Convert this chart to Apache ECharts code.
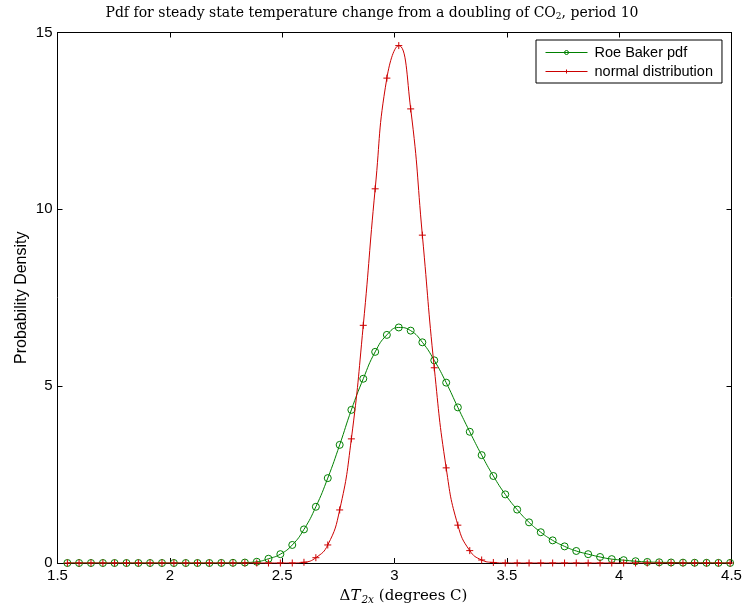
<!DOCTYPE html>
<html>
<head>
<meta charset="utf-8">
<script src="https://cdn.jsdelivr.net/npm/echarts@6/dist/echarts.min.js"></script>
<style>
  html, body { margin: 0; padding: 0; background: #fff; }
  #chart { width: 744px; height: 607px; }
</style>
</head>
<body>
<div id="chart"></div>
<script>
// Temperature change grid (degrees C) at which the curves are sampled
const deltaT = [
  1.544, 1.596, 1.649, 1.702, 1.754, 1.807, 1.860, 1.912, 1.965, 2.018,
  2.071, 2.123, 2.176, 2.229, 2.281, 2.334, 2.387, 2.439, 2.492, 2.545,
  2.597, 2.650, 2.703, 2.756, 2.808, 2.861, 2.914, 2.966, 3.019, 3.072,
  3.124, 3.177, 3.230, 3.282, 3.335, 3.388, 3.440, 3.493, 3.546, 3.599,
  3.651, 3.704, 3.757, 3.809, 3.862, 3.915, 3.967, 4.020, 4.073, 4.125,
  4.178, 4.231, 4.284, 4.336, 4.389, 4.442, 4.494
];

// Roe & Baker probability density
const roeBakerPdf = [
  0, 0, 0, 0, 0, 0, 0, 0, 0, 0,
  0, 0, 0, 0.002, 0.005, 0.012, 0.035, 0.12, 0.25, 0.51,
  0.95, 1.59, 2.40, 3.34, 4.33, 5.21, 5.97, 6.45, 6.66, 6.57,
  6.24, 5.73, 5.10, 4.40, 3.71, 3.05, 2.46, 1.94, 1.51, 1.15,
  0.87, 0.64, 0.47, 0.34, 0.25, 0.17, 0.11, 0.08, 0.05, 0.03,
  0.02, 0.015, 0.01, 0.007, 0.005, 0.003, 0.002
];

// Normal distribution density
const normalPdf = [
  0, 0, 0, 0, 0, 0, 0, 0, 0, 0,
  0, 0, 0, 0, 0, 0, 0, 0, 0, 0,
  0.02, 0.15, 0.51, 1.50, 3.51, 6.72, 10.58, 13.71, 14.63, 12.84,
  9.27, 5.52, 2.69, 1.07, 0.35, 0.085, 0.015, 0, 0, 0,
  0, 0, 0, 0, 0, 0, 0, 0, 0, 0,
  0, 0, 0, 0, 0, 0, 0
];

const xTicks = [1.5, 2, 2.5, 3, 3.5, 4, 4.5];
const yTicks = [0, 5, 10, 15];
const seriesNames = ['Roe Baker pdf', 'normal distribution'];

const GREEN = '#008000';
const RED = '#cc0000';
const SANS = '"Liberation Sans", Arial, Helvetica, sans-serif';
const SERIF = '"DejaVu Serif", "Liberation Serif", serif';

const pairs = (ys) => deltaT.map((x, i) => [x, ys[i]]);

const xMin = xTicks[0], xMax = xTicks[xTicks.length - 1], xStep = xTicks[1] - xTicks[0];
const yMin = yTicks[0], yMax = yTicks[yTicks.length - 1], yStep = yTicks[1] - yTicks[0];

const frameAxisX = (pos, show) => ({
  type: 'value', position: pos, min: xMin, max: xMax, interval: xStep,
  axisLine: { show: true, onZero: false, lineStyle: { color: '#000', width: 1 } },
  axisTick: { show: true, inside: true, length: 5, lineStyle: { color: '#000' } },
  axisLabel: { show: show, color: '#000', fontSize: 15, fontFamily: SANS, margin: 5 },
  splitLine: { show: false }
});
const frameAxisY = (pos, show) => ({
  type: 'value', position: pos, min: yMin, max: yMax, interval: yStep,
  axisLine: { show: true, onZero: false, lineStyle: { color: '#000', width: 1 } },
  axisTick: { show: true, inside: true, length: 5, lineStyle: { color: '#000' } },
  axisLabel: { show: show, color: '#000', fontSize: 15, fontFamily: SANS, margin: 5 },
  splitLine: { show: false }
});

const xBottom = frameAxisX('bottom', true);
xBottom.name = '{d|\u0394}{t|T}{s|2x}{r| (degrees C)}';
xBottom.nameLocation = 'middle';
xBottom.nameGap = 24;
xBottom.nameMoveOverlap = false;
xBottom.nameTextStyle = {
  color: '#000',
  padding: [0, 0, 0, 18],
  rich: {
    d: { fontFamily: SERIF, fontSize: 15, color: '#000' },
    t: { fontFamily: SERIF, fontSize: 15, fontStyle: 'italic', color: '#000', padding: [0, 1, 0, 0] },
    s: { fontFamily: SERIF, fontSize: 10.5, fontStyle: 'italic', color: '#000', padding: [8, 0, 0, 0] },
    r: { fontFamily: SERIF, fontSize: 15, color: '#000' }
  }
};

const yLeft = frameAxisY('left', true);
yLeft.name = 'Probability Density';
yLeft.nameLocation = 'middle';
yLeft.nameGap = 28;
yLeft.nameMoveOverlap = false;
yLeft.nameTextStyle = { color: '#000', fontSize: 16, fontFamily: SANS };

const plusSymbol = 'path://M5,0L5,10M0,5L10,5';

const chart = echarts.init(document.getElementById('chart'), null, { renderer: 'canvas' });
chart.setOption({
  animation: false,
  backgroundColor: '#fff',
  title: {
    text: '{a|Pdf for steady state temperature change from a doubling of CO}{b|2}{a|, period 10}',
    left: 'center',
    top: 3,
    padding: [2, 0, 2, 14],
    textStyle: {
      fontWeight: 'normal',
      rich: {
        a: { fontFamily: SERIF, fontSize: 14, fontWeight: 'normal', color: '#000' },
        b: { fontFamily: SERIF, fontSize: 9, fontWeight: 'normal', color: '#000', padding: [7, 0, 0, 0] }
      }
    }
  },
  grid: { left: 57.5, right: 12.5, top: 32.5, bottom: 44, outerBoundsMode: 'none' },
  legend: {
    orient: 'vertical',
    left: 536,
    top: 40,
    padding: [5, 9, 4, 9],
    itemGap: 4,
    itemWidth: 42,
    itemHeight: 5,
    backgroundColor: '#fff',
    borderColor: '#000',
    borderWidth: 1,
    borderRadius: 0,
    lineStyle: { width: 1 },
    itemStyle: { color: 'rgba(0,0,0,0)', borderWidth: 1 },
    textStyle: { fontFamily: SANS, fontSize: 14.5, color: '#000', padding: [0, 0, 0, 2] },
    data: seriesNames
  },
  xAxis: [xBottom, frameAxisX('top', false)],
  yAxis: [yLeft, frameAxisY('right', false)],
  series: [
    {
      name: seriesNames[0],
      type: 'line',
      data: pairs(roeBakerPdf),
      smooth: true,
      symbol: 'circle',
      symbolSize: 7,
      showAllSymbol: true,
      lineStyle: { color: GREEN, width: 1 },
      itemStyle: { color: 'rgba(0,0,0,0)', borderColor: GREEN, borderWidth: 1 },
      z: 2
    },
    {
      name: seriesNames[1],
      type: 'line',
      data: pairs(normalPdf),
      smooth: true,
      symbol: plusSymbol,
      symbolSize: 7,
      showAllSymbol: true,
      lineStyle: { color: RED, width: 1 },
      itemStyle: { color: 'rgba(0,0,0,0)', borderColor: RED, borderWidth: 1 },
      z: 3
    }
  ]
});
</script>
</body>
</html>
